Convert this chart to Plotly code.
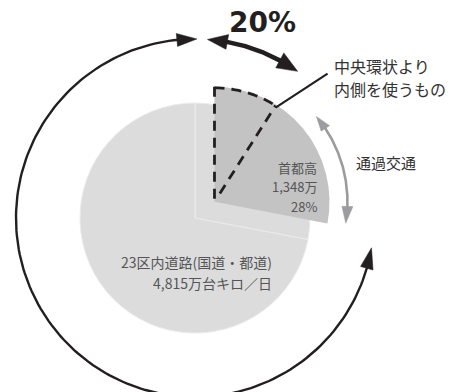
import math
import plotly.graph_objects as go

# ---------------- data ----------------
categories = ["首都高", "一般道路"]
shutoko = 1348          # 万台キロ/日
total = 4815            # 23区内道路 合計 (万台キロ/日)
values = [shutoko, total - shutoko]
inner_share = 0.09      # 中央環状より内側を使うもの (share of circle, estimated)
through_pct = "20%"
label_inner = ["中央環状より", "内側を使うもの"]
label_through = "通過交通"
label_total = ["23区内道路(国道・都道)", f"{total:,}万台キロ／日"]

# ---------------- geometry / style ----------------
W, H = 460, 392
CX, CY = 195, 218
R = 115
PULL = 0.22
R_OUT = 179
LIGHT = "#dcdcdd"
DARK = "#c3c3c4"
INK = "#231f20"
GRAY_ARROW = "#9c9c9e"
TXT = "#555555"
JP = "Noto Sans CJK JP"


def pt(cx, cy, r, deg):
    a = math.radians(deg)
    return cx + r * math.sin(a), cy - r * math.cos(a)


def arc(cx, cy, r, d0, d1, n=160):
    xs, ys = [], []
    for i in range(n + 1):
        x, y = pt(cx, cy, r, d0 + (d1 - d0) * i / n)
        xs.append(x)
        ys.append(y)
    return xs, ys


def head(cx, cy, r, deg, sign, L, Wd):
    """triangle with tip on the arc at deg, pointing toward increasing deg if sign>0"""
    b = deg - sign * math.degrees(L / r)
    tx, ty = pt(cx, cy, r, deg)
    x1, y1 = pt(cx, cy, r + Wd / 2, b)
    x2, y2 = pt(cx, cy, r - Wd / 2, b)
    return [tx, x1, x2, tx], [ty, y1, y2, ty], b


def path_of(xs, ys):
    return "M" + " L".join(f"{x:.2f},{y:.2f}" for x, y in zip(xs, ys))


def dom(half):
    return dict(x=[(CX - half) / W, (CX + half) / W],
                y=[1 - (CY + half) / H, 1 - (CY - half) / H])


fig = go.Figure()

# background full light circle
fig.add_trace(go.Pie(values=values, labels=categories, sort=False,
                     direction="clockwise", rotation=0, textinfo="none",
                     hoverinfo="skip", showlegend=False,
                     marker=dict(colors=[LIGHT, LIGHT], line=dict(color="#ebebec", width=1)),
                     domain=dom(R)))
# pulled-out 首都高 slice
fig.add_trace(go.Pie(values=values, labels=categories, sort=False,
                     direction="clockwise", rotation=0, textinfo="none",
                     hoverinfo="skip", showlegend=False, pull=[PULL, 0],
                     marker=dict(colors=[DARK, "rgba(0,0,0,0)"], line=dict(width=0)),
                     domain=dom(R * (1 + PULL))))

frac = values[0] / sum(values)
sh_deg = 360 * frac
mid = sh_deg / 2
VX, VY = pt(CX, CY, PULL * R, mid)   # vertex of pulled slice

shapes = []

# ---- outer circulation arc with two heads ----
start_deg, end_deg = sh_deg - 1.2, 360.6
hx1, hy1, b1 = head(CX, CY, R_OUT, start_deg, -1, 21, 13)
hx2, hy2, b2 = head(CX, CY, R_OUT, end_deg, +1, 20, 13)
ax, ay = arc(CX, CY, R_OUT, b1 - 0.5, b2 + 0.5)
fig.add_trace(go.Scatter(x=ax, y=ay, mode="lines", line=dict(color=INK, width=2.4),
                         hoverinfo="skip", showlegend=False))
for hx, hy in [(hx1, hy1), (hx2, hy2)]:
    fig.add_trace(go.Scatter(x=hx, y=hy, mode="lines", fill="toself", fillcolor=INK,
                             line=dict(color=INK, width=0.5), hoverinfo="skip", showlegend=False))

# ---- 20% double arrow ----
p0, p1 = 4.0, 35.0
hx1, hy1, b1 = head(CX, CY, R_OUT, p0, -1, 20, 15)
hx2, hy2, b2 = head(CX, CY, R_OUT, p1, +1, 21, 17)
ax, ay = arc(CX, CY, R_OUT, b1 - 0.5, b2 + 0.5)
fig.add_trace(go.Scatter(x=ax, y=ay, mode="lines", line=dict(color=INK, width=4.5),
                         hoverinfo="skip", showlegend=False))
for hx, hy in [(hx1, hy1), (hx2, hy2)]:
    fig.add_trace(go.Scatter(x=hx, y=hy, mode="lines", fill="toself", fillcolor=INK,
                             line=dict(color=INK, width=0.5), hoverinfo="skip", showlegend=False))

# ---- gray 通過交通 arrow ----
RG = 133
g0, g1 = 50.0, sh_deg - 1.5
hx1, hy1, b1 = head(VX, VY, RG, g0, -1, 15, 10)
hx2, hy2, b2 = head(VX, VY, RG, g1, +1, 17, 11)
ax, ay = arc(VX, VY, RG, b1 - 0.5, b2 + 0.5)
fig.add_trace(go.Scatter(x=ax, y=ay, mode="lines", line=dict(color=GRAY_ARROW, width=2.6),
                         hoverinfo="skip", showlegend=False))
for hx, hy in [(hx1, hy1), (hx2, hy2)]:
    fig.add_trace(go.Scatter(x=hx, y=hy, mode="lines", fill="toself", fillcolor=GRAY_ARROW,
                             line=dict(color=GRAY_ARROW, width=0.5), hoverinfo="skip", showlegend=False))

# ---- dashed sector (中央環状より内側) on top of the pie ----
inner_deg = 360 * inner_share
dash = "10px,7px"
tx, ty = pt(VX, VY, R, 0)
shapes.append(dict(type="path", xref="x", yref="y", layer="above",
                   path=path_of([tx, VX], [ty, VY + 1]),
                   line=dict(color=INK, width=2.8, dash=dash)))
axs, ays = arc(VX, VY, R - 1, 0, inner_deg, 40)
shapes.append(dict(type="path", xref="x", yref="y", layer="above",
                   path=path_of(axs, ays),
                   line=dict(color=INK, width=2.8, dash=dash)))
ex, ey = pt(VX, VY, R - 1, inner_deg)
sx, sy = pt(VX, VY, 10, inner_deg)
shapes.append(dict(type="path", xref="x", yref="y", layer="above",
                   path=path_of([sx, ex], [sy, ey]),
                   line=dict(color=INK, width=2.8, dash=dash)))
# leader line
lx, ly = pt(VX, VY, R - 1, inner_deg)
shapes.append(dict(type="path", xref="x", yref="y", layer="above",
                   path=path_of([lx, lx + 52], [ly + 2, ly - 32]),
                   line=dict(color=INK, width=2.2)))

fig.update_layout(shapes=shapes)

# ---- texts ----
ann = []
def add_text(text, x, y, xanchor, size, color=TXT, family=JP, bold=False, align="left"):
    ann.append(dict(text=text, x=x, y=y, xref="x", yref="y", xanchor=xanchor,
                    yanchor="middle", showarrow=False, align=align,
                    font=dict(family=family, size=size, color=color,
                              weight="bold" if bold else "normal")))

add_text(categories[0], 319, 167, "right", 13)
add_text(f"{shutoko:,}万", 319, 186.5, "right", 13)
add_text(f"{round(100 * frac)}%", 319, 206, "right", 13)
add_text(label_total[0], 274, 262, "right", 14)
add_text(label_total[1], 274, 283, "right", 14)
add_text(label_inner[0], 332, 66, "left", 16, color="#333333")
add_text(label_inner[1], 332, 89, "left", 16, color="#333333")
add_text(label_through, 354, 162, "left", 15, color="#333333")
add_text(through_pct, 262, 22, "center", 28, color=INK, family="DejaVu Sans", bold=True)

fig.update_layout(
    annotations=ann,
    width=W, height=H,
    margin=dict(l=0, r=0, t=0, b=0),
    paper_bgcolor="white", plot_bgcolor="white",
    xaxis=dict(range=[0, W], visible=False, fixedrange=True),
    yaxis=dict(range=[H, 0], visible=False, fixedrange=True),
    showlegend=False,
)

fig.write_html("out.html")
